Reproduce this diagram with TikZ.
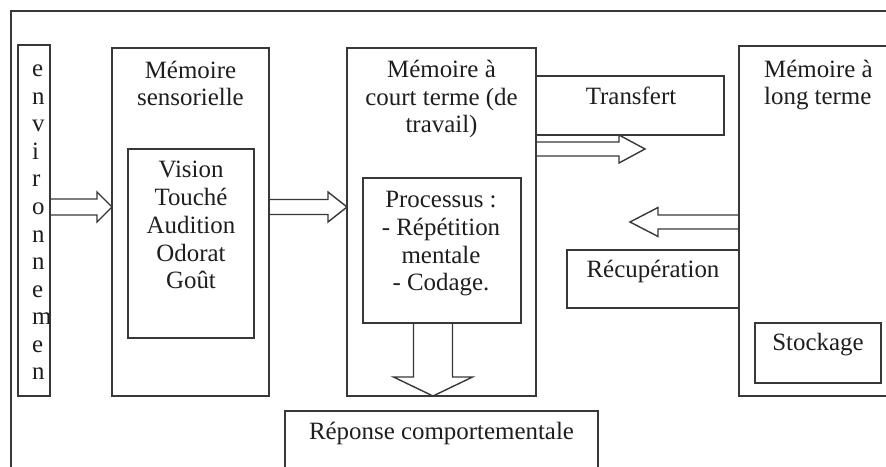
\documentclass[tikz,border=0pt]{standalone}
\usepackage{fontspec}
\setmainfont{Liberation Serif}
\usetikzlibrary{calc}
\definecolor{ink}{HTML}{383838}
\definecolor{txt}{HTML}{1E1E1E}

% hollow block arrow: start, tip, shaft half-width, head half-width, head length
\newcommand\hollowarrow[5]{%
  \coordinate (hb) at ($(#2)!#5!(#1)$);
  \draw[blockarrow] ($(#1)!#3!90:(#2)$) -- ($(hb)!#3!-90:(#1)$)
    -- ($(hb)!#4!-90:(#1)$) -- (#2) -- ($(hb)!#4!90:(#1)$)
    -- ($(hb)!#3!90:(#1)$) -- ($(#1)!#3!-90:(#2)$);}

% framed box: name, left, top, width, height
\newcommand\framedbox[5]{%
  \node[box, minimum width=#4bp, minimum height=#5bp] (#1) at (#2,#3) {};}

\begin{document}
\begin{tikzpicture}[x=1bp,y=-1bp,
  box/.style={draw=ink, line width=1.4bp, rectangle, inner sep=0pt, outer sep=0pt, anchor=north west},
  frameline/.style={draw=ink, line width=1.4bp},
  blockarrow/.style={draw=ink, line width=1.4bp, line join=miter},
  lbl/.style={text=txt, font=\fontsize{25}{28}\selectfont, inner sep=0pt, align=center, anchor=base},
  lblleft/.style={lbl, align=left, anchor=base west}]
\useasboundingbox (0,0) rectangle (886,467);
\clip (0,0) rectangle (886,467);
\fill[white] (0,0) rectangle (886,467);

% outer frame
\draw[frameline] (11,480) -- (11,11) -- (900,11);

% boxes
\framedbox{env}{18}{45}{32}{351}
\framedbox{sens}{112}{48}{157}{348}
\framedbox{sensin}{128}{149}{126}{189}
\framedbox{mct}{347}{48}{189}{348}
\framedbox{proc}{363}{178}{158}{145}
\framedbox{transf}{536}{76}{188}{59}
\framedbox{mlt}{739}{46}{200}{350}
\framedbox{recup}{567}{250}{172}{58}
\framedbox{stock}{755}{323}{126}{60}
\framedbox{rep}{285}{411}{313}{100}

% texts (anchored at the baseline of their last line)
\node[lblleft, font=\fontsize{25}{27.7}\selectfont] (envtxt) at (32,380) {e\\n\\v\\i\\r\\o\\n\\n\\e\\m\\e\\n};
\node[lbl] (senstitle) at (190.5,106) {Mémoire\\sensorielle};
\node[lbl] (senslist) at (191,289) {Vision\\Touché\\Audition\\Odorat\\Goût};
\node[lbl] (mcttitle) at (441.5,133) {Mémoire à\\court terme (de\\travail)};
\node[lbl] (proctxt) at (441,291) {Processus :\\- Répétition\\mentale\\- Codage.};
\node[lbl] (transftxt) at (631,105) {Transfert};
\node[lblleft] (mlttitle) at (764,105) {Mémoire à\\long terme};
\node[lbl] (recuptxt) at (653,278) {Récupération};
\node[lbl] (stocktxt) at (818,351) {Stockage};
\node[lbl] (reptxt) at (441.5,439) {Réponse comportementale};

% connector end points
\coordinate (a1s) at (env.east |- 0,207);
\coordinate (a1e) at (sens.west |- 0,207);
\coordinate (a2s) at (sens.east |- 0,207);
\coordinate (a2e) at (mct.west |- 0,207);
\coordinate (a3s) at (mct.east |- 0,149);
\coordinate (a3e) at (645,149);
\coordinate (a4s) at (mlt.west |- 0,222);
\coordinate (a4e) at (630,222);
\coordinate (a5s) at (433,0 |- proc.south);
\coordinate (a5e) at (433,0 |- mct.south);

% block arrows
\hollowarrow{a1s}{a1e}{8bp}{15bp}{15bp}
\hollowarrow{a2s}{a2e}{7.5bp}{15bp}{19bp}
\hollowarrow{a3s}{a3e}{7bp}{14bp}{26bp}
\hollowarrow{a4s}{a4e}{7bp}{14.5bp}{28bp}
\hollowarrow{a5s}{a5e}{19.5bp}{39.5bp}{19bp}
\end{tikzpicture}
\end{document}
